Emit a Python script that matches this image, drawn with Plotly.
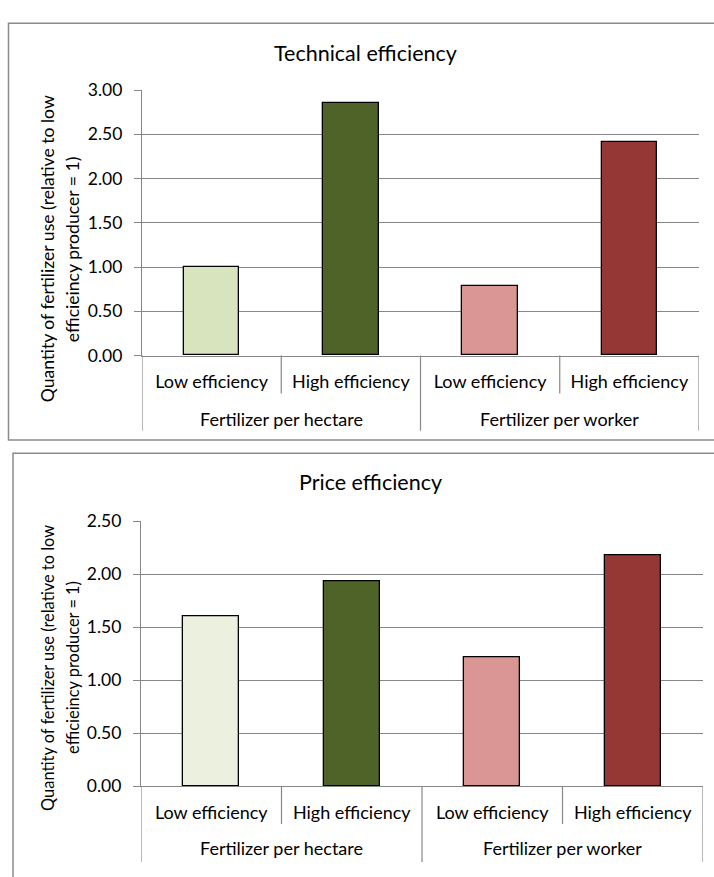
import plotly.graph_objects as go

# ---- data -------------------------------------------------------------
groups = ["Fertilizer per hectare", "Fertilizer per hectare",
          "Fertilizer per worker", "Fertilizer per worker"]
levels = ["Low efficiency", "High efficiency", "Low efficiency", "High efficiency"]
technical = [1.00, 2.85, 0.78, 2.41]
price = [1.60, 1.93, 1.22, 2.18]

tech_colors = ["#D7E4BD", "#4F6228", "#D99694", "#953735"]
price_colors = ["#EBF1DE", "#4F6228", "#D99694", "#953735"]

y_title_lines = ["Quantity of fertilizer use (relative to low",
                 "efficieincy producer = 1)"]

# ---- page geometry (pixels) -------------------------------------------
W, H = 714, 877
FONT = "Lato"
GRID = "#878787"
TXT = "#000000"


def px(x):
    return x / W


def py(y):
    return 1 - y / H


panels = [
    dict(title="Technical efficiency", values=technical, colors=tech_colors,
         x0=142, x1=699, ybase=353, ytop=81, ymax=3.0,
         box=(8.5, 12.5, 730, 439.5), title_xy=(365, 43),
         ytitle_x=(47, 72), ytitle_y=244, ytitle_size=17.6,
         outer_y=418, tick_end=392, div_end=430, xa="x", ya="y"),
    dict(title="Price efficiency", values=price, colors=price_colors,
         x0=141, x1=703, ybase=794.3, ytop=522.7, ymax=2.5,
         box=(13, 453, 730, 900), title_xy=(370, 483),
         ytitle_x=(48, 73), ytitle_y=673, ytitle_size=16.4,
         outer_y=858, tick_end=833, div_end=872, xa="x2", ya="y2"),
]

fig = go.Figure()
shapes, annotations = [], []
pos = list(range(len(levels)))

for i, p in enumerate(panels):
    fig.add_trace(go.Bar(
        x=pos, y=p["values"], width=0.4,
        marker=dict(color=p["colors"], line=dict(color="#000000", width=1.3)),
        xaxis=p["xa"], yaxis=p["ya"], showlegend=False, hoverinfo="y",
    ))

    sfx = "" if i == 0 else "2"
    fig.update_layout(**{
        "xaxis" + sfx: dict(
            domain=[px(p["x0"]), px(p["x1"])], range=[-0.5, len(levels) - 0.5],
            anchor="y" + sfx, tickvals=pos, ticktext=levels, ticks="",
            showline=True, linecolor=GRID, linewidth=1.2, showgrid=False,
            zeroline=False, tickfont=dict(family=FONT, size=18, color=TXT),
            ticklabelstandoff=10, fixedrange=True,
        ),
        "yaxis" + sfx: dict(
            domain=[py(p["ybase"]), py(p["ytop"])], range=[0, p["ymax"]],
            anchor="x" + sfx, dtick=0.5, tickformat=".2f",
            showline=True, linecolor=GRID, linewidth=1.2,
            showgrid=True, gridcolor=GRID, gridwidth=1.2, zeroline=False,
            ticks="outside", ticklen=7, tickcolor=GRID, tickwidth=1.2,
            tickfont=dict(family=FONT, size=17.5, color=TXT),
            ticklabelstandoff=8, fixedrange=True,
        ),
    })

    # chart frame
    bx0, by0, bx1, by1 = p["box"]
    shapes.append(dict(type="rect", xref="paper", yref="paper",
                       x0=px(bx0), x1=px(bx1), y0=py(by1), y1=py(by0),
                       line=dict(color="#8c8c8c", width=1.5), layer="below"))

    # boundary ticks between inner categories and dividers between groups
    for k in range(len(levels) + 1):
        xb = k - 0.5
        is_div = k == 0 or k == len(levels) or groups[k - 1] != groups[k]
        end = p["div_end"] if is_div else p["tick_end"]
        shapes.append(dict(type="line", xref=p["xa"], yref="paper",
                           x0=xb, x1=xb, y0=py(p["ybase"]), y1=py(end),
                           line=dict(color=GRID, width=1.2)))

    # group labels
    seen = []
    for g in groups:
        if g in seen:
            continue
        seen.append(g)
        idx = [j for j, gg in enumerate(groups) if gg == g]
        annotations.append(dict(
            text=g, xref=p["xa"], yref="paper", x=sum(idx) / len(idx),
            y=py(p["outer_y"]), showarrow=False, xanchor="center", yanchor="middle",
            font=dict(family=FONT, size=18, color=TXT)))

    # chart title
    tx, ty = p["title_xy"]
    annotations.append(dict(text=p["title"], xref="paper", yref="paper",
                            x=px(tx), y=py(ty), showarrow=False,
                            xanchor="center", yanchor="middle",
                            font=dict(family=FONT, size=21.5, color=TXT)))

    # y-axis title, two centred lines
    for line, lx in zip(y_title_lines, p["ytitle_x"]):
        annotations.append(dict(text=line, xref="paper", yref="paper",
                                x=px(lx), y=py(p["ytitle_y"]), showarrow=False,
                                textangle=-90, xanchor="center", yanchor="middle",
                                font=dict(family=FONT, size=p["ytitle_size"],
                                          color=TXT)))

fig.update_layout(
    width=W, height=H, margin=dict(l=0, r=0, t=0, b=0),
    paper_bgcolor="white", plot_bgcolor="white",
    shapes=shapes, annotations=annotations, bargap=0,
)

fig.write_html("out.html", config={"displayModeBar": False})
